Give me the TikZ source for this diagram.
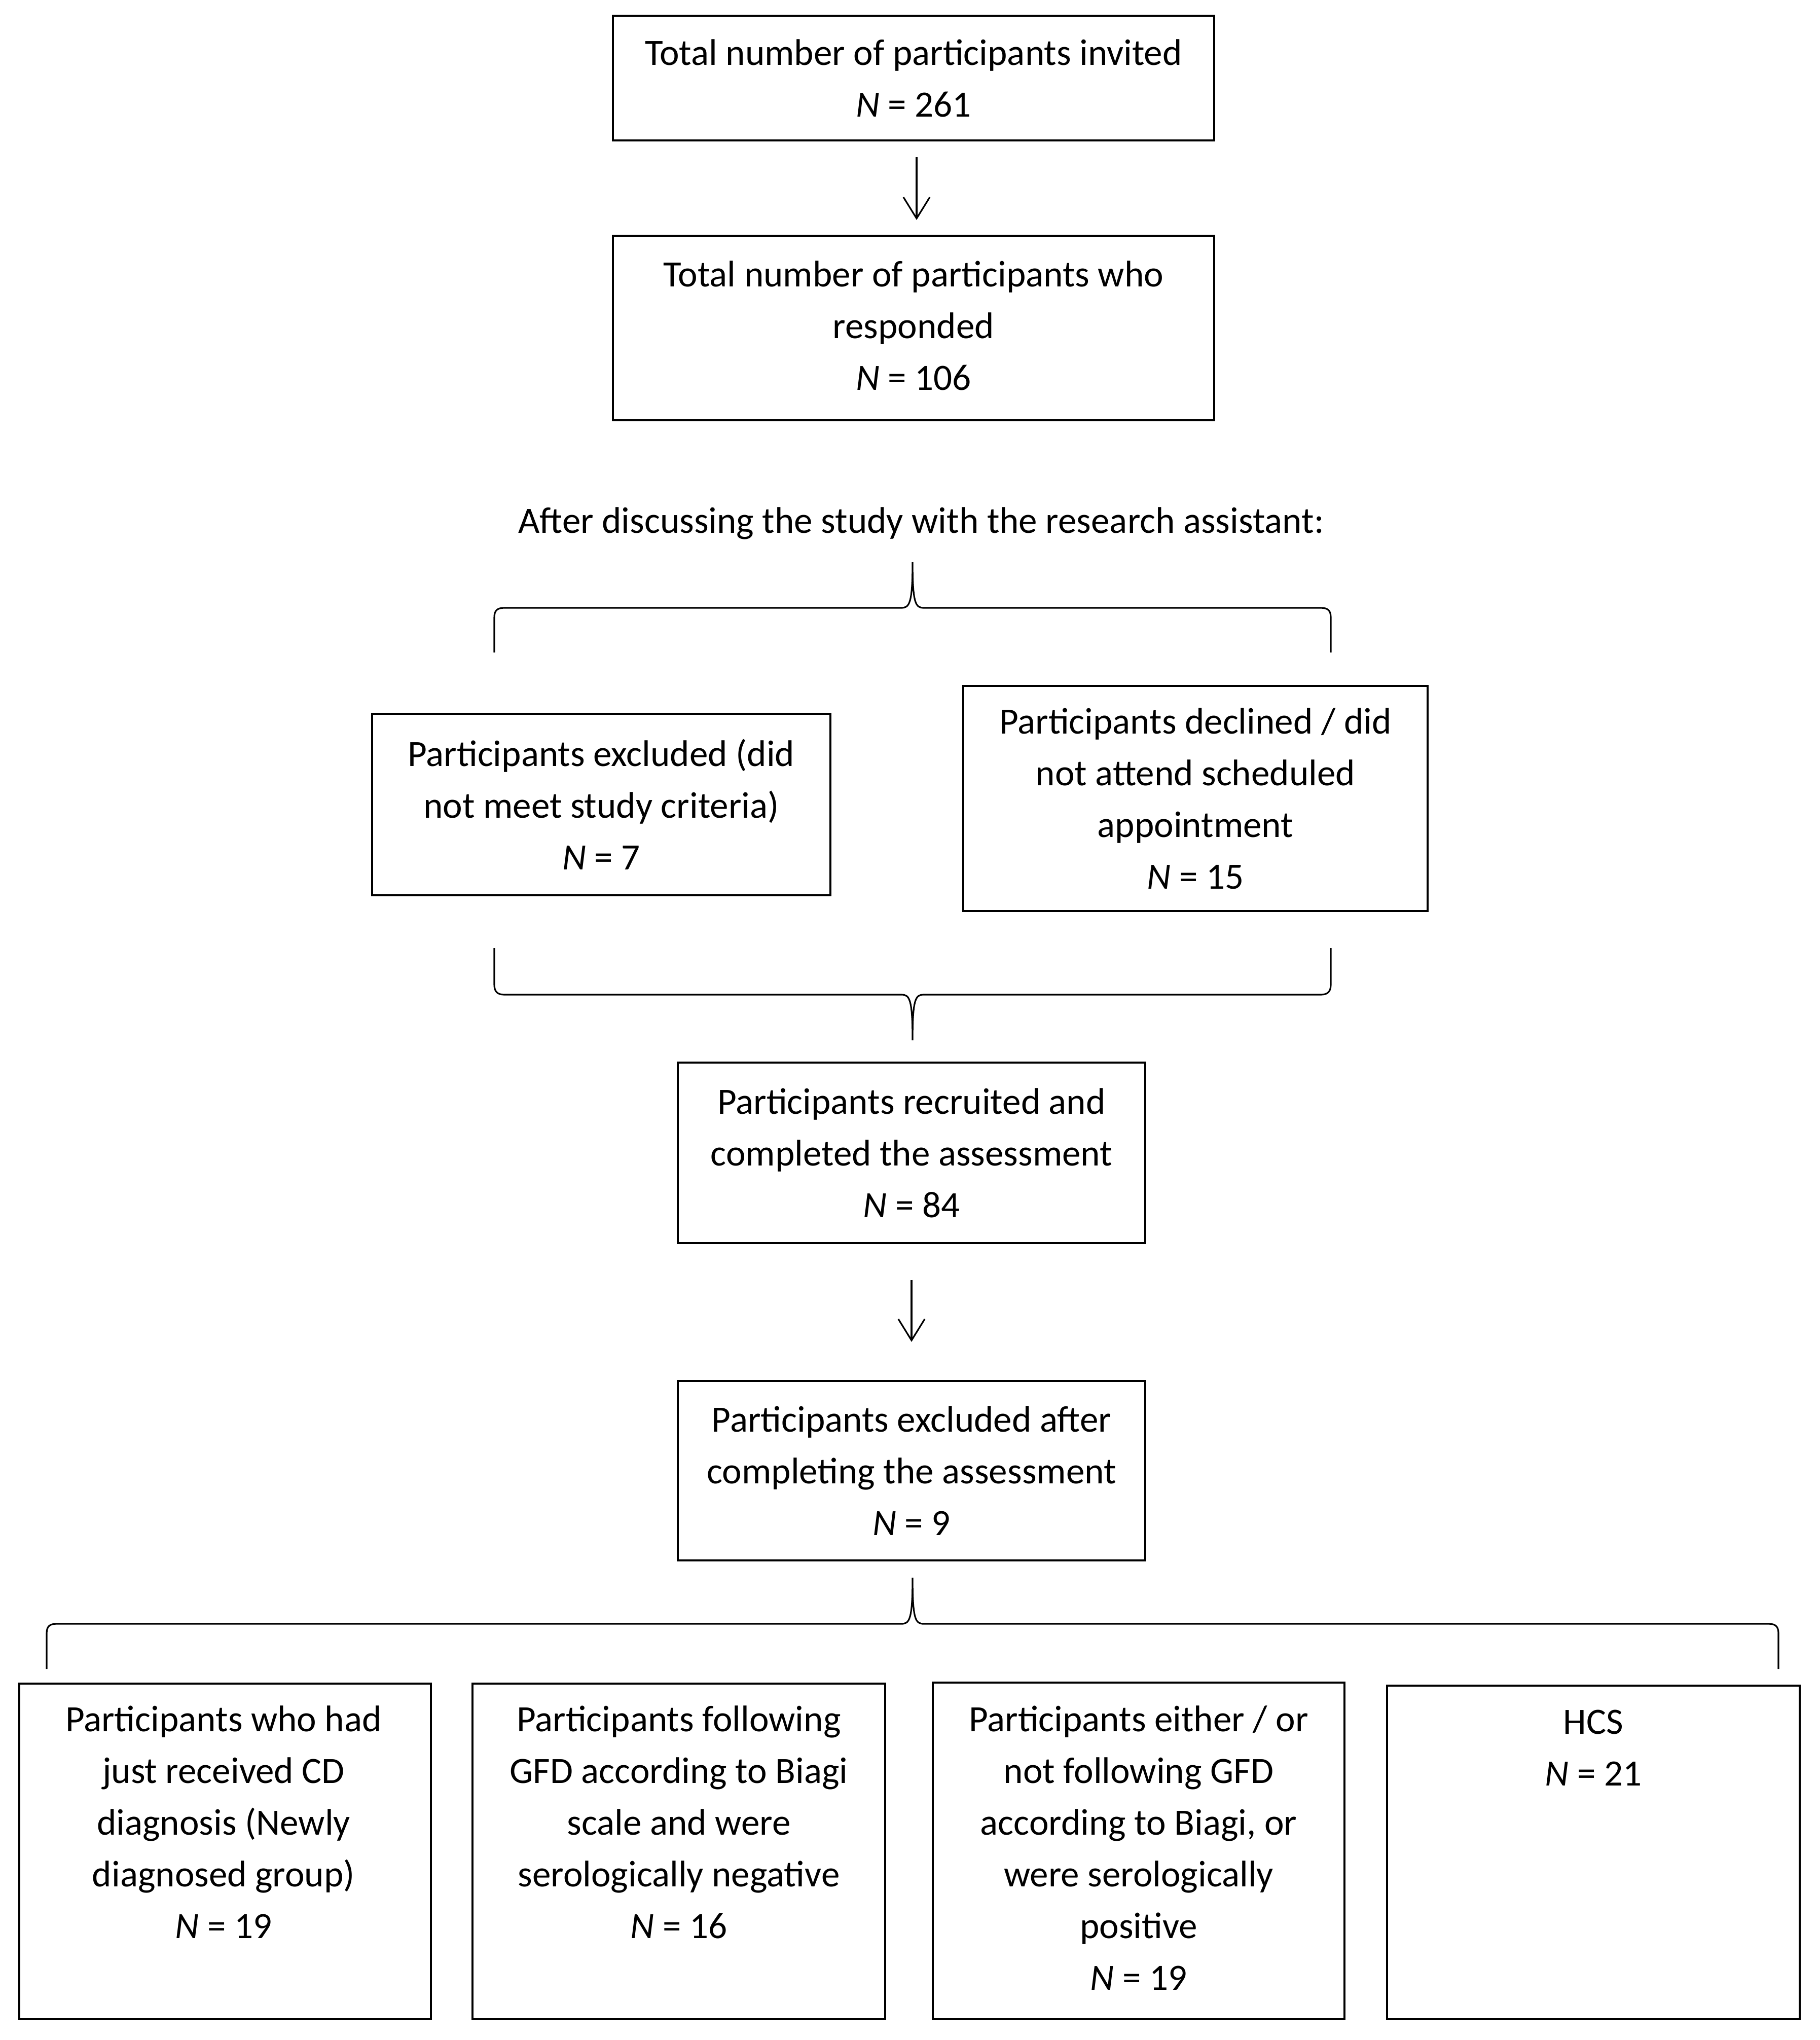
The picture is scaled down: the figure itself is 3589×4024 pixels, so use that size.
\documentclass[tikz,border=0pt]{standalone}
\usepackage{fontspec}
\setmainfont{Carlito}
\usetikzlibrary{arrows.meta}
\begin{document}
\begin{tikzpicture}[x=0.01cm,y=-0.01cm,
  every node/.style={font=\fontsize{20.8}{29}\selectfont},
  box/.style={draw, line width=1.1pt, inner sep=0pt, align=center},
  txt/.style={inner sep=0pt, align=center},
  brace/.style={line width=0.9pt},
  arr/.style={line width=0.9pt, -{Straight Barb[length=0.42cm,width=0.52cm,line width=0.9pt]}}]
\useasboundingbox (0,0) rectangle (3589,4024);

\node[box, minimum width=11.86cm, minimum height=2.46cm] (b1) at (1802,154)
  {Total number of participants invited\\\textit{N} = 261};
\node[box, minimum width=11.86cm, minimum height=3.64cm, text depth=0.1cm] (b2) at (1802,647)
  {Total number of participants who\\responded\\\textit{N} = 106};
\draw[arr, shorten <=0.31cm, shorten >=0.29cm] ([xshift=0.06cm]b1.south) -- ([xshift=0.06cm]b2.north);

\node[txt] (after) at (1817,1032) {After discussing the study with the research assistant:};

\coordinate (t1) at (1800,1109);
\draw[brace] (975,1287) -- (975,1218) .. controls (975,1204) and (981,1199) .. (995,1199)
  -- (1778,1199) .. controls (1794,1199) and (1800,1190) .. (t1)
  .. controls (1800,1190) and (1806,1199) .. (1822,1199)
  -- (2605,1199) .. controls (2619,1199) and (2625,1204) .. (2625,1218) -- (2625,1287);

\node[box, minimum width=9.04cm, minimum height=3.57cm] (b3) at (1186,1587)
  {Participants excluded (did\\not meet study criteria)\\\textit{N} = 7};
\node[box, minimum width=9.16cm, minimum height=4.44cm] (b4) at (2358,1575)
  {Participants declined / did\\not attend scheduled\\appointment\\\textit{N} = 15};

\coordinate (t2) at (1800,2052);
\draw[brace] (975,1870) -- (975,1942) .. controls (975,1956) and (981,1962) .. (995,1962)
  -- (1778,1962) .. controls (1794,1962) and (1800,1970) .. (t2)
  .. controls (1800,1970) and (1806,1962) .. (1822,1962)
  -- (2605,1962) .. controls (2619,1962) and (2625,1956) .. (2625,1942) -- (2625,1870);

\node[box, minimum width=9.22cm, minimum height=3.55cm] (b5) at (1798,2274)
  {Participants recruited and\\completed the assessment\\\textit{N} = 84};
\node[box, minimum width=9.22cm, minimum height=3.54cm] (b6) at (1798,2901)
  {Participants excluded after\\completing the assessment\\\textit{N} = 9};
\draw[arr, shorten <=0.71cm, shorten >=0.75cm] (b5.south) -- (b6.north);

\coordinate (t3) at (1800,3112);
\draw[brace] (92,3292) -- (92,3222) .. controls (92,3208) and (98,3203) .. (112,3203)
  -- (1778,3203) .. controls (1794,3203) and (1800,3195) .. (t3)
  .. controls (1800,3195) and (1806,3203) .. (1822,3203)
  -- (3488,3203) .. controls (3502,3203) and (3508,3208) .. (3508,3222) -- (3508,3292);

\node[box, minimum width=8.12cm, minimum height=6.62cm, anchor=north] (c1) at (444,3319) {};
\node[box, minimum width=8.14cm, minimum height=6.62cm, anchor=north] (c2) at (1339,3319) {};
\node[box, minimum width=8.11cm, minimum height=6.64cm, anchor=north] (c3) at (2246,3317) {};
\node[box, minimum width=8.14cm, minimum height=6.58cm, anchor=north] (c4) at (3143,3323) {};

\node[txt, anchor=north] (c1t) at (441,3364)
  {Participants who had\\just received CD\\diagnosis (Newly\\diagnosed group)\\\textit{N} = 19};
\node[txt, anchor=north] (c2t) at (1339,3364)
  {Participants following\\GFD according to Biagi\\scale and were\\serologically negative\\\textit{N} = 16};
\node[txt, anchor=north] (c3t) at (2246,3364)
  {Participants either / or\\not following GFD\\according to Biagi, or\\were serologically\\positive\\\textit{N} = 19};
\node[txt, anchor=north] (c4t) at (3143,3372)
  {HCS\\\textit{N} = 21};
\end{tikzpicture}
\end{document}
